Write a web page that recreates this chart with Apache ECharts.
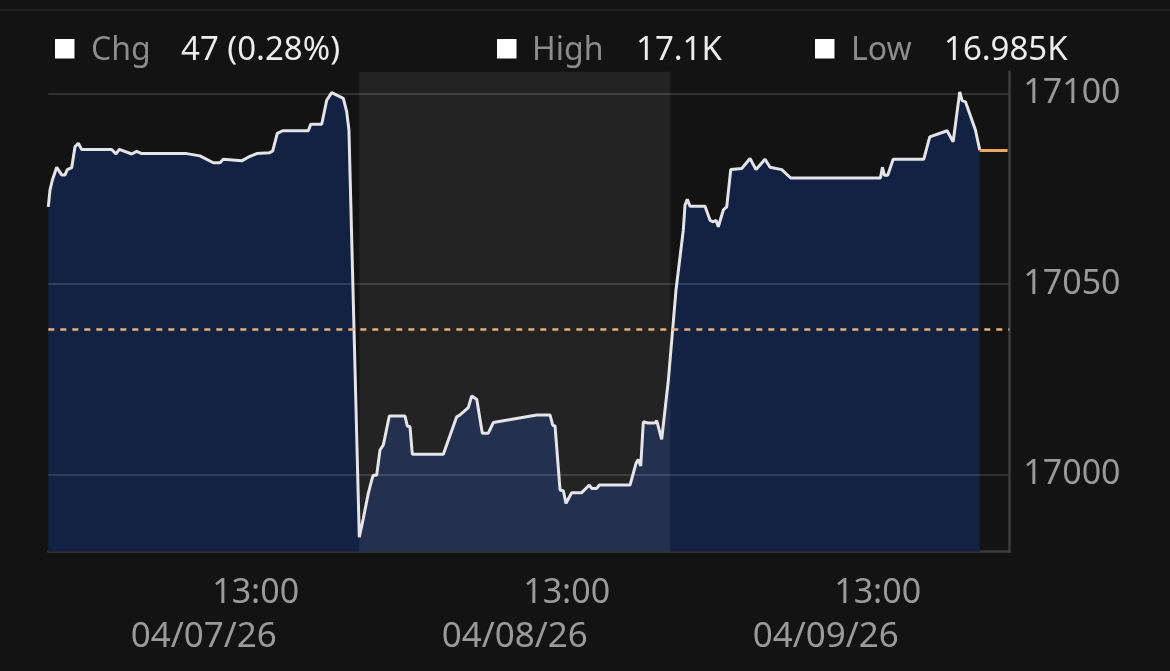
<!DOCTYPE html>
<html>
<head>
<meta charset="utf-8">
<script src="https://cdn.jsdelivr.net/npm/echarts@6/dist/echarts.min.js"></script>
<style>
html,body{margin:0;padding:0;background:#131313;}
#c{width:1170px;height:671px;}
</style>
</head>
<body>
<div id="c"></div>
<script>
// ---- data ----
const SESSION_START = 7;   // session opens 07:00
const SESSION_LEN = 9;     // hours per session
const X_PAD = 0.81;        // empty hours after last session

const dateLabels = ['04/07/26', '04/08/26', '04/09/26'];
const timeTickHour = 13;
const timeTickLabel = '13:00';

const headerLabels = ['Chg', 'High', 'Low'];
const headerValues = ['47 (0.28%)', '17.1K', '16.985K'];

const yTicks = [17000, 17050, 17100];
const yMin = 16979.7;
const yMax = 17105.7;
const prevClose = 17038;
const lastPrice = 17085;

const day1Hours = [7.000, 7.049, 7.116, 7.243, 7.388, 7.483, 7.550, 7.677, 7.773, 7.868, 7.967, 8.835, 8.959, 9.055, 9.414, 9.558, 9.703, 11.005, 11.390, 11.775, 11.969, 12.064, 12.597, 12.837, 13.031, 13.396, 13.494, 13.627, 13.783, 14.524, 14.594, 14.912, 15.057, 15.201, 15.537, 15.635, 15.700];
const day1Values = [17070.2, 17074.6, 17077.2, 17080.6, 17078.6, 17078.6, 17080.0, 17080.5, 17086.0, 17086.9, 17085.3, 17085.3, 17084.1, 17085.3, 17084.1, 17084.8, 17084.2, 17084.2, 17083.6, 17081.8, 17081.8, 17082.7, 17082.3, 17083.5, 17084.2, 17084.4, 17084.9, 17089.5, 17090.2, 17090.2, 17091.9, 17091.9, 17098.2, 17100.2, 17098.7, 17095.2, 17090.4];

const day2Hours = [7.000, 7.116, 7.260, 7.359, 7.405, 7.503, 7.599, 7.695, 7.868, 8.323, 8.389, 8.467, 8.534, 9.431, 9.819, 9.914, 10.154, 10.253, 10.398, 10.560, 10.733, 10.878, 12.134, 12.519, 12.597, 12.664, 12.809, 12.904, 12.982, 13.147, 13.436, 13.656, 13.726, 13.870, 13.946, 14.834, 15.008, 15.074, 15.144, 15.219, 15.346, 15.557, 15.606, 15.751, 15.943];
const day2Values = [16983.5, 16988.4, 16995.0, 16998.5, 16999.8, 16999.8, 17006.4, 17007.7, 17015.3, 17015.3, 17012.7, 17012.5, 17005.3, 17005.3, 17015.1, 17015.6, 17017.5, 17020.6, 17019.7, 17010.8, 17010.8, 17013.6, 17015.6, 17015.6, 17012.9, 17012.7, 16995.9, 16995.7, 16992.4, 16995.2, 16995.2, 16997.2, 16996.3, 16996.3, 16997.2, 16997.2, 17002.9, 17003.9, 17002.2, 17013.8, 17013.5, 17013.5, 17014.1, 17009.2, 17024.7];

const day3Hours = [7.165, 7.376, 7.425, 7.492, 7.570, 8.004, 8.150, 8.245, 8.323, 8.389, 8.534, 8.633, 8.749, 9.067, 9.307, 9.481, 9.741, 9.886, 10.225, 10.485, 13.081, 13.139, 13.197, 13.292, 13.449, 14.334, 14.508, 15.011, 15.185, 15.376, 15.445, 15.541, 15.830, 15.955];
const day3Values = [17048.4, 17064.1, 17070.7, 17072.2, 17070.4, 17070.4, 17066.7, 17066.3, 17066.7, 17065.0, 17069.4, 17070.2, 17080.0, 17080.3, 17082.9, 17080.0, 17082.7, 17080.6, 17080.0, 17077.8, 17077.8, 17080.6, 17078.5, 17078.5, 17082.7, 17082.7, 17088.6, 17090.2, 17087.3, 17100.4, 17098.1, 17097.8, 17090.4, 17085.1];

// ---- build ----
const days = [[day1Hours, day1Values], [day2Hours, day2Values], [day3Hours, day3Values]];
const toX = (dayIdx, h) => dayIdx * SESSION_LEN + (h - SESSION_START);
const lineData = [];
days.forEach(([hs, vs], i) => hs.forEach((h, j) => lineData.push([toX(i, h), vs[j]])));

const xMax = days.length * SESSION_LEN + X_PAD;
const lastX = lineData[lineData.length - 1][0];
const timeTicks = days.map((d, i) => toX(i, timeTickHour));
const dateTicks = days.map((d, i) => i * SESSION_LEN + SESSION_LEN / 2);

const FONT = '"Noto Sans", "Open Sans", sans-serif';
const LABEL_GRAY = '#9a9a9a';

const headerX = [[55, 91, 181], [497, 532, 636], [815, 851, 944]];
const graphic = [{
  type: 'line', silent: true,
  shape: { x1: 0, y1: 10, x2: 1170, y2: 10 },
  style: { stroke: '#2a2a2a', lineWidth: 1.5 }
}];
headerLabels.forEach((lab, i) => {
  const [sx, lx, vx] = headerX[i];
  graphic.push({ type: 'rect', silent: true, shape: { x: sx, y: 39, width: 19.5, height: 19.5 }, style: { fill: '#ffffff' } });
  graphic.push({ type: 'text', silent: true, x: lx, y: 51, style: { text: lab, fill: '#8c8c8c', font: '32px ' + FONT, align: 'left', verticalAlign: 'middle', textAlign: 'left', textVerticalAlign: 'middle' } });
  graphic.push({ type: 'text', silent: true, x: vx, y: 51, style: { text: headerValues[i], fill: '#ececec', font: '33px ' + FONT, align: 'left', verticalAlign: 'middle', textAlign: 'left', textVerticalAlign: 'middle' } });
});

const chart = echarts.init(document.getElementById('c'), null, { renderer: 'canvas' });
chart.setOption({
  animation: false,
  backgroundColor: '#131313',
  grid: { left: 48.3, right: 160.7, top: 71.7, bottom: 119.3, containLabel: false, outerBoundsMode: 'none' },
  graphic: graphic,
  xAxis: [{
    type: 'value', min: 0, max: xMax, position: 'bottom',
    axisLine: { show: true, onZero: false, lineStyle: { color: '#3c3c3c', width: 2.5 } },
    axisTick: { show: false, customValues: timeTicks },
    splitLine: { show: false },
    axisLabel: { customValues: timeTicks, formatter: () => timeTickLabel, color: LABEL_GRAY, fontSize: 34, fontFamily: FONT, margin: 25 }
  }, {
    type: 'value', min: 0, max: xMax, position: 'bottom', offset: 43,
    axisLine: { show: false, onZero: false }, axisTick: { show: false, customValues: dateTicks }, splitLine: { show: false },
    axisLabel: { customValues: dateTicks, formatter: v => dateLabels[Math.floor(v / SESSION_LEN)], color: LABEL_GRAY, fontSize: 35, fontFamily: FONT, margin: 25 }
  }],
  yAxis: {
    type: 'value', position: 'right', min: yMin, max: yMax, z: 4,
    axisLine: { show: true, onZero: false, lineStyle: { color: '#3c3c3c', width: 2.5 } },
    axisTick: { show: false, customValues: yTicks },
    splitLine: { show: true, lineStyle: { color: 'rgba(255,255,255,0.13)', width: 2 } },
    axisLabel: { customValues: yTicks, formatter: v => String(Math.round(v)), color: LABEL_GRAY, fontSize: 34, fontFamily: FONT, margin: 14, padding: [0, 0, 14, 0] }
  },
  series: [{
    type: 'line', xAxisIndex: 0, data: lineData, showSymbol: false, symbol: 'none', z: 2,
    lineStyle: { color: '#e4e4e8', width: 3 },
    areaStyle: { color: '#132242', opacity: 1 },
    markArea: {
      silent: true, z: 3,
      itemStyle: { color: 'rgba(255,255,255,0.07)' },
      data: [[{ xAxis: SESSION_LEN }, { xAxis: 2 * SESSION_LEN }]]
    },
    markLine: {
      silent: true, symbol: 'none', z: 5,
      label: { show: false },
      lineStyle: { color: '#eab07a', type: [6, 6], width: 2.5 },
      emphasis: { disabled: true },
      data: [{ yAxis: prevClose }]
    }
  }, {
    type: 'line', xAxisIndex: 0, data: [[lastX, lastPrice], [xMax - 0.05, lastPrice]],
    showSymbol: false, symbol: 'none', z: 3,
    lineStyle: { color: '#f0a85c', width: 3 }
  }]
});
</script>
</body>
</html>
